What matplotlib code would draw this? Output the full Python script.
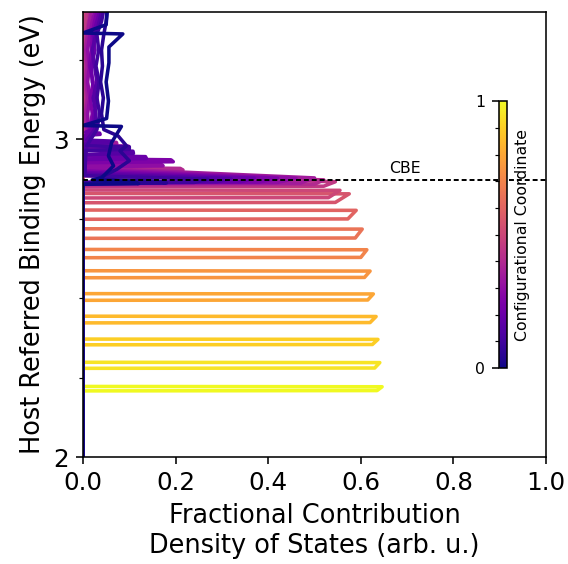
import matplotlib
matplotlib.use("Agg")
import matplotlib.pyplot as plt
from matplotlib.ticker import MultipleLocator, FixedLocator

# Configurational coordinates of the curves
coords = [0.0, 0.05, 0.10, 0.15, 0.20, 0.25, 0.30, 0.35, 0.40, 0.45,
          0.50, 0.55, 0.60, 0.65, 0.70, 0.75, 0.80, 0.85, 0.90, 0.95, 1.00]

# Localised states (coords 0.50 ... 1.00): one narrow peak each
loc_coords = [0.50, 0.55, 0.60, 0.65, 0.70, 0.75, 0.80, 0.85, 0.90, 0.95, 1.00]
loc_e_lo = [2.815, 2.800, 2.748, 2.688, 2.627, 2.564, 2.493, 2.422, 2.353, 2.279, 2.208]
loc_e_hi = [2.840, 2.829, 2.777, 2.718, 2.653, 2.586, 2.514, 2.443, 2.371, 2.298, 2.222]
loc_x_lo = [0.530, 0.545, 0.572, 0.588, 0.600, 0.608, 0.615, 0.620, 0.625, 0.630, 0.635]
loc_x_hi = [0.555, 0.575, 0.590, 0.603, 0.613, 0.620, 0.627, 0.633, 0.637, 0.641, 0.646]

# Delocalised states (coords 0.00 ... 0.45): peak at the CBE plus tail above
en_000 = [2.858, 2.860, 2.866, 2.872, 2.878, 2.916, 2.947, 2.990, 3.040, 3.043,
          3.065, 3.12, 3.18, 3.24, 3.29, 3.331, 3.334, 3.36, 3.40]
dos_000 = [0.0, 0.12, 0.11, 0.02, 0.04, 0.066, 0.055, 0.062, 0.083, 0.0,
           0.051, 0.055, 0.05, 0.056, 0.056, 0.086, 0.0, 0.05, 0.052]

en_005 = [2.860, 2.862, 2.868, 2.874, 2.905, 2.932, 2.963, 2.979, 3.010]
dos_005 = [0.0, 0.18, 0.16, 0.03, 0.073, 0.10, 0.08, 0.094, 0.076]

en_010 = [2.862, 2.864, 2.874, 2.885, 2.965, 2.968, 2.976, 2.979]
dos_010 = [0.0, 0.24, 0.27, 0.004, 0.006, 0.10, 0.10, 0.008]

en_015 = [2.864, 2.866, 2.876, 2.890, 2.952, 2.955, 2.962, 2.965,
          2.986, 2.989, 2.994, 2.997]
dos_015 = [0.0, 0.29, 0.32, 0.004, 0.005, 0.109, 0.108, 0.006,
           0.006, 0.06, 0.06, 0.008]

en_020 = [2.864, 2.866, 2.877, 2.895, 2.936, 2.939, 2.945, 2.948,
          3.012, 3.015, 3.019, 3.022]
dos_020 = [0.0, 0.34, 0.37, 0.004, 0.004, 0.137, 0.135, 0.005,
           0.005, 0.037, 0.036, 0.006]

en_025 = [2.863, 2.865, 2.877, 2.900, 2.926, 2.929, 2.935, 2.938]
dos_025 = [0.0, 0.38, 0.42, 0.004, 0.004, 0.195, 0.19, 0.005]

en_030 = [2.862, 2.864, 2.877, 2.905, 2.913, 2.916, 2.920, 2.923,
          2.970, 2.973, 2.978, 2.981]
dos_030 = [0.0, 0.42, 0.46, 0.004, 0.004, 0.173, 0.17, 0.005,
           0.005, 0.10, 0.098, 0.006]

en_035 = [2.860, 2.862, 2.878, 2.910, 2.983, 2.986, 2.990, 2.993]
dos_035 = [0.0, 0.47, 0.50, 0.004, 0.004, 0.073, 0.072, 0.006]

en_040 = [2.856, 2.858, 2.872, 2.890, 2.901, 2.903, 2.908, 2.911]
dos_040 = [0.0, 0.50, 0.52, 0.004, 0.004, 0.216, 0.21, 0.005]

en_045 = [2.850, 2.852, 2.866, 2.885]
dos_045 = [0.0, 0.52, 0.545, 0.003]

# Small wiggly tails high in the conduction band
track_e = [3.03, 3.08, 3.13, 3.18, 3.23, 3.28, 3.33, 3.37, 3.40]
track_005 = [0.045, 0.04, 0.044, 0.038, 0.042, 0.04, 0.045, 0.05, 0.052]
track_010 = [0.03, 0.036, 0.03, 0.035, 0.028, 0.034, 0.03, 0.04, 0.044]
track_015 = [0.025, 0.028, 0.022, 0.03, 0.025, 0.02, 0.028, 0.035, 0.04]
track_020 = [0.02, 0.024, 0.03, 0.02, 0.018, 0.026, 0.022, 0.03, 0.036]
track_025 = [0.015, 0.02, 0.016, 0.022, 0.014, 0.018, 0.02, 0.025, 0.03]
track_030 = [0.012, 0.01, 0.015, 0.01, 0.014, 0.01, 0.015, 0.02, 0.025]
track_035 = [0.008, 0.006, 0.01, 0.007, 0.009, 0.006, 0.01, 0.014, 0.018]
track_040 = [0.006, 0.005, 0.008, 0.005, 0.007, 0.005, 0.008, 0.012, 0.015]
track_045 = [0.003, 0.002, 0.004, 0.003, 0.003, 0.002, 0.004, 0.006, 0.008]

cbe = 2.871

deloc = {
    0.00: (en_000, dos_000),
    0.05: (en_005 + track_e, dos_005 + track_005),
    0.10: (en_010 + track_e, dos_010 + track_010),
    0.15: (en_015 + track_e, dos_015 + track_015),
    0.20: (en_020 + track_e, dos_020 + track_020),
    0.25: (en_025 + track_e, dos_025 + track_025),
    0.30: (en_030 + track_e, dos_030 + track_030),
    0.35: (en_035 + track_e, dos_035 + track_035),
    0.40: (en_040 + track_e, dos_040 + track_040),
    0.45: (en_045 + track_e, dos_045 + track_045),
}

fig = plt.figure(figsize=(4, 564 / 142), dpi=142)
ax = fig.add_axes([0.1461, 0.1897, 0.8152, 0.789])
cmap = plt.cm.plasma

# draw from coord 1 down to coord 0 so the dark curves lie on top
for c in coords[::-1]:
    if c in loc_coords:
        i = loc_coords.index(c)
        e = [2.0, loc_e_lo[i], loc_e_lo[i] + 0.001, loc_e_hi[i] - 0.001, loc_e_hi[i], 3.4]
        x = [0.0, 0.0, loc_x_lo[i], loc_x_hi[i], 0.0, 0.0]
    else:
        en, dos = deloc[c]
        e = [2.0] + en
        x = [0.0] + dos
    ax.plot(x, e, color=cmap(c), lw=1.8, solid_joinstyle="round")

ax.axhline(cbe, color="black", lw=1, dashes=(2.5, 1.5))
ax.text(0.695, cbe + 0.012, "CBE", ha="center", va="bottom", fontsize=8)

ax.set_xlim(0, 1)
ax.set_ylim(2, 3.4)
ax.set_xticks([0.0, 0.2, 0.4, 0.6, 0.8, 1.0])
ax.set_yticks([2, 3])
ax.yaxis.set_minor_locator(FixedLocator([2.25, 2.5, 2.75, 3.25]))
ax.tick_params(labelsize=12.5)
ax.set_xlabel("Fractional Contribution\nDensity of States (arb. u.)", fontsize=13)
ax.set_ylabel("Host Referred Binding Energy (eV)", fontsize=13)

# colour bar for the configurational coordinate
cax = fig.add_axes([0.8785, 0.3475, 0.0141, 0.473])
sm = plt.cm.ScalarMappable(cmap=cmap, norm=plt.Normalize(0, 1))
cb = fig.colorbar(sm, cax=cax)
cax.yaxis.set_ticks_position("left")
cb.set_ticks([0, 1])
cax.yaxis.set_minor_locator(MultipleLocator(0.1))
cax.tick_params(labelsize=8)
cax.yaxis.set_label_position("right")
cb.set_label("Configurational Coordinate", fontsize=8)

fig.savefig("out.png", dpi=142)
